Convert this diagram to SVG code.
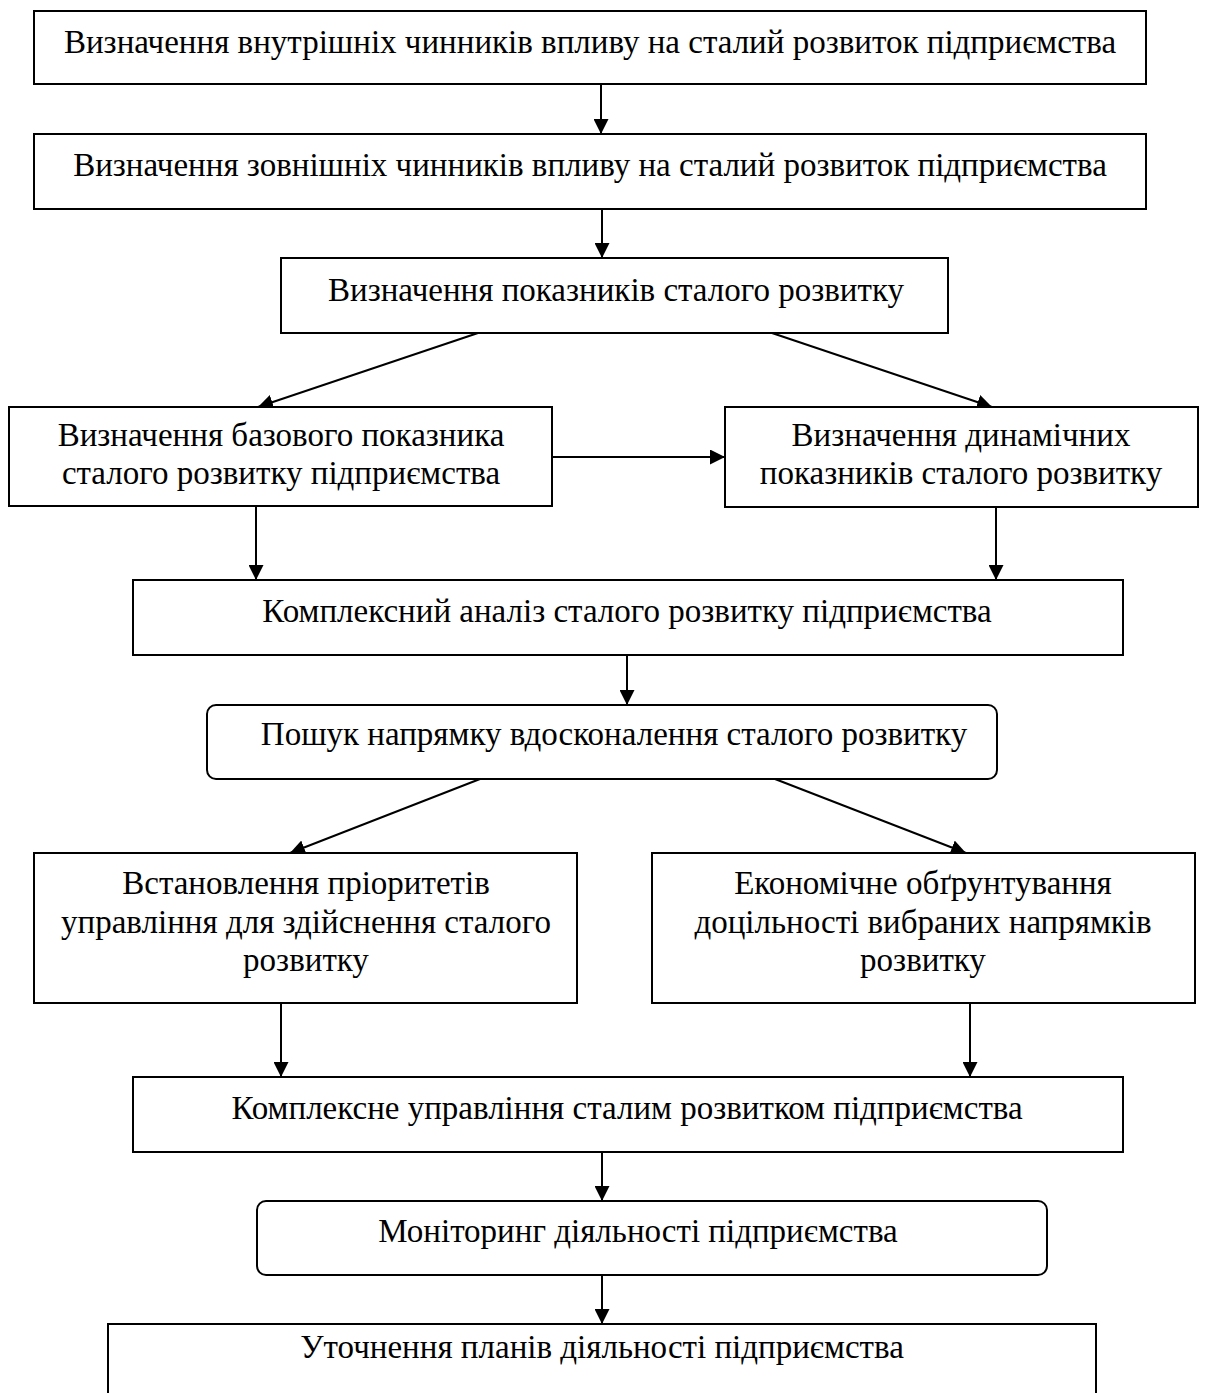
<svg xmlns="http://www.w3.org/2000/svg" width="1211" height="1393" viewBox="0 0 1211 1393">
  <defs>
    <marker id="arrow" markerUnits="userSpaceOnUse" markerWidth="15" markerHeight="15" refX="15" refY="7.5" orient="auto">
      <path d="M0,0 L15,7.5 L0,15 Z" fill="#000"/>
    </marker>
    <style>
      .box { fill: #fff; stroke: #000; stroke-width: 2; }
      .lbl { font-family: "Liberation Serif", "Times New Roman", serif; font-size: 33px; fill: #000; text-anchor: middle; }
      .conn { stroke: #000; stroke-width: 2; fill: none; marker-end: url(#arrow); }
    </style>
  </defs>
  <rect width="1211" height="1393" fill="#fff"/>

  <!-- connectors -->
  <g id="connectors">
    <line class="conn" x1="601" y1="84" x2="601" y2="134"/>
    <line class="conn" x1="602" y1="209" x2="602" y2="258"/>
    <line class="conn" x1="478" y1="333" x2="258" y2="407"/>
    <line class="conn" x1="772" y1="333" x2="992" y2="407"/>
    <line class="conn" x1="552" y1="457" x2="725" y2="457"/>
    <line class="conn" x1="256" y1="506" x2="256" y2="580"/>
    <line class="conn" x1="996" y1="507" x2="996" y2="580"/>
    <line class="conn" x1="627" y1="655" x2="627" y2="705"/>
    <line class="conn" x1="480" y1="779" x2="290" y2="853"/>
    <line class="conn" x1="775" y1="779" x2="966" y2="853"/>
    <line class="conn" x1="281" y1="1003" x2="281" y2="1077"/>
    <line class="conn" x1="970" y1="1003" x2="970" y2="1077"/>
    <line class="conn" x1="602" y1="1152" x2="602" y2="1201"/>
    <line class="conn" x1="602" y1="1275" x2="602" y2="1324"/>
  </g>

  <!-- nodes -->
  <g id="n1">
    <rect class="box" x="34" y="11" width="1112" height="73"/>
    <text class="lbl" x="590" y="53">Визначення внутрішніх чинників впливу на сталий розвиток підприємства</text>
  </g>
  <g id="n2">
    <rect class="box" x="34" y="134" width="1112" height="75"/>
    <text class="lbl" x="590" y="176">Визначення зовнішніх чинників впливу на сталий розвиток підприємства</text>
  </g>
  <g id="n3">
    <rect class="box" x="281" y="258" width="667" height="75"/>
    <text class="lbl" x="616" y="301">Визначення показників сталого розвитку</text>
  </g>
  <g id="n4">
    <rect class="box" x="9" y="407" width="543" height="99"/>
    <text class="lbl" x="281" y="446">Визначення базового показника</text>
    <text class="lbl" x="281" y="484">сталого розвитку підприємства</text>
  </g>
  <g id="n5">
    <rect class="box" x="725" y="407" width="473" height="100"/>
    <text class="lbl" x="961" y="446">Визначення динамічних</text>
    <text class="lbl" x="961" y="484">показників сталого розвитку</text>
  </g>
  <g id="n6">
    <rect class="box" x="133" y="580" width="990" height="75"/>
    <text class="lbl" x="627" y="622">Комплексний аналіз сталого розвитку підприємства</text>
  </g>
  <g id="n7">
    <rect class="box" x="207" y="705" width="790" height="74" rx="9"/>
    <text class="lbl" x="614" y="745">Пошук напрямку вдосконалення сталого розвитку</text>
  </g>
  <g id="n8">
    <rect class="box" x="34" y="853" width="543" height="150"/>
    <text class="lbl" x="306" y="894">Встановлення пріоритетів</text>
    <text class="lbl" x="306" y="933">управління для здійснення сталого</text>
    <text class="lbl" x="306" y="971">розвитку</text>
  </g>
  <g id="n9">
    <rect class="box" x="652" y="853" width="543" height="150"/>
    <text class="lbl" x="923" y="894">Економічне обґрунтування</text>
    <text class="lbl" x="923" y="933">доцільності вибраних напрямків</text>
    <text class="lbl" x="923" y="971">розвитку</text>
  </g>
  <g id="n10">
    <rect class="box" x="133" y="1077" width="990" height="75"/>
    <text class="lbl" x="627" y="1119">Комплексне управління сталим розвитком підприємства</text>
  </g>
  <g id="n11">
    <rect class="box" x="257" y="1201" width="790" height="74" rx="9"/>
    <text class="lbl" x="638" y="1242">Моніторинг діяльності підприємства</text>
  </g>
  <g id="n12">
    <rect class="box" x="108" y="1324" width="988" height="90"/>
    <text class="lbl" x="602" y="1358">Уточнення планів діяльності підприємства</text>
  </g>
</svg>
